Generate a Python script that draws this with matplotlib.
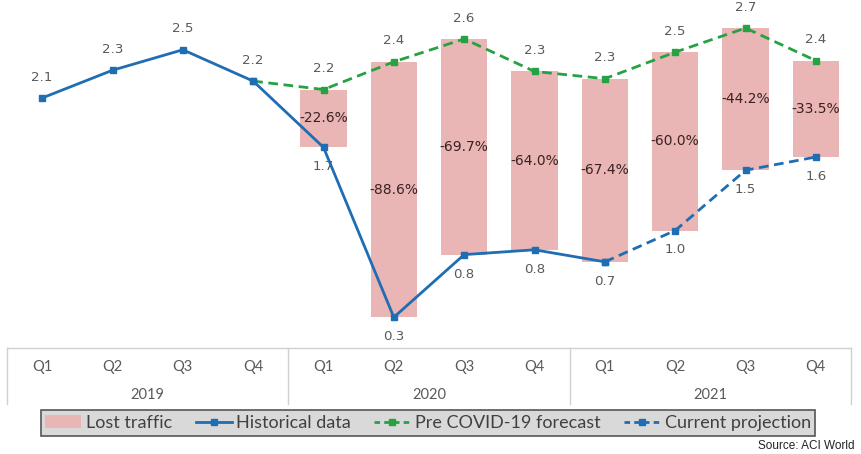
import matplotlib
matplotlib.use("Agg")
import matplotlib.pyplot as plt
from matplotlib.patches import Patch
from matplotlib.lines import Line2D

# ---- data ----
quarters = ['Q1', 'Q2', 'Q3', 'Q4'] * 3
years = ['2019', '2020', '2021']
historical = [2.10, 2.33, 2.50, 2.24, 1.69, 0.28, 0.80, 0.84, 0.74]   # Q1 2019 .. Q1 2021
forecast = [2.24, 2.17, 2.40, 2.59, 2.32, 2.26, 2.48, 2.68, 2.41]     # Q4 2019 .. Q4 2021
projection = [0.74, 1.00, 1.50, 1.61]                                  # Q1 2021 .. Q4 2021
lost_pct = [-22.6, -88.6, -69.7, -64.0, -67.4, -60.0, -44.2, -33.5]    # Q1 2020 .. Q4 2021

W, H = 861, 454
fig = plt.figure(figsize=(W / 100, H / 100), dpi=100)

# axes geometry in pixels
x_left, x_right = 7, 851
y_table_top = 348
ax = fig.add_axes([x_left / W, 1 - y_table_top / H, (x_right - x_left) / W, y_table_top / H])
ax.set_xlim(-0.5, 11.5)
ax.set_ylim(0.025, 2.913)
ax.axis('off')

blue = '#1F6DB3'
green = '#27A243'
pink = '#E9B5B5'
lab_col = '#5A5A5A'

x_hist = list(range(len(historical)))
x_fc = list(range(3, 3 + len(forecast)))
x_proj = list(range(8, 8 + len(projection)))

# actual (historical + projection) for bar bottoms, from Q1 2020
actual_all = historical[:8] + projection
x_bar = list(range(4, 12))
bottoms = [actual_all[i] for i in x_bar]
tops = [forecast[i - 3] for i in x_bar]
heights = [t - b for t, b in zip(tops, bottoms)]
ax.bar(x_bar, heights, bottom=bottoms, width=0.66, color=pink, zorder=1)

ax.plot(x_fc, forecast, color=green, lw=2, ls=(0, (3.5, 2)), marker='s', ms=5, zorder=3)
ax.plot(x_proj, projection, color=blue, lw=2, ls=(0, (3.5, 2)), marker='s', ms=5, zorder=4)
ax.plot(x_hist, historical, color=blue, lw=2, marker='s', ms=5, zorder=5)

dfont = dict(family='DejaVu Sans', fontsize=9.6, color=lab_col, ha='center', va='center')
# historical labels
for x, v in zip(x_hist, historical):
    if x <= 3:
        ax.annotate(f'{v:.1f}', (x, v), xytext=(0, 15), textcoords='offset points', **dfont)
    else:
        ax.annotate(f'{v:.1f}', (x, v), xytext=(0, -14), textcoords='offset points', **dfont)
# forecast labels (skip Q4 2019, shared)
for x, v in zip(x_fc[1:], forecast[1:]):
    ax.annotate(f'{v:.1f}', (x, v), xytext=(0, 15), textcoords='offset points', **dfont)
# projection labels (skip Q1 2021, shared)
for x, v in zip(x_proj[1:], projection[1:]):
    ax.annotate(f'{v:.1f}', (x, v), xytext=(0, -14), textcoords='offset points', **dfont)
# percentage labels
for x, b, t, p in zip(x_bar, bottoms, tops, lost_pct):
    ax.text(x, (b + t) / 2, f'{p:.1f}%', family='DejaVu Sans', fontsize=10,
            color='#3A2222', ha='center', va='center', zorder=6)

# ---- category table ----
line_col = '#D0D0D0'
def fx(px):
    return px / W
def fy(py):
    return 1 - py / H

fig.add_artist(Line2D([fx(x_left), fx(x_right)], [fy(y_table_top), fy(y_table_top)], color=line_col, lw=1))
step = (x_right - x_left) / 12
for k in range(4):
    xp = x_left + 4 * k * step
    fig.add_artist(Line2D([fx(xp), fx(xp)], [fy(y_table_top), fy(404)], color=line_col, lw=1))
for i, q in enumerate(quarters):
    xp = x_left + (i + 0.5) * step
    fig.text(fx(xp), fy(367), q, family='Lato', fontsize=10.5, color=lab_col, ha='center', va='center')
for k, yname in enumerate(years):
    xp = x_left + (4 * k + 2) * step
    fig.text(fx(xp), fy(395), yname, family='Lato', fontsize=10.5, color=lab_col, ha='center', va='center')

# ---- legend ----
handles = [
    Patch(facecolor=pink, edgecolor='none'),
    Line2D([], [], color=blue, lw=2, marker='s', ms=5),
    Line2D([], [], color=green, lw=2, ls=(0, (2, 1.5)), marker='s', ms=5),
    Line2D([], [], color=blue, lw=2, ls=(0, (2, 1.5)), marker='s', ms=5),
]
labels = ['Lost traffic', 'Historical data', 'Pre COVID-19 forecast', 'Current projection']
leg = fig.legend(handles, labels, loc='center', ncol=4,
                 bbox_to_anchor=(fx(428), fy(423)),
                 prop={'family': 'Lato', 'size': 13}, frameon=True, fancybox=False,
                 facecolor='#D9D9D9', edgecolor='#555555', framealpha=1,
                 handlelength=2.0, handletextpad=0.25, columnspacing=1.3,
                 borderpad=0.25, labelcolor='#404040')
leg.get_frame().set_linewidth(1.2)

fig.text(fx(855), fy(446), 'Source: ACI World', family='Liberation Sans', fontsize=8.5,
         color='#222222', ha='right', va='center')

fig.savefig('out.png', dpi=100)
